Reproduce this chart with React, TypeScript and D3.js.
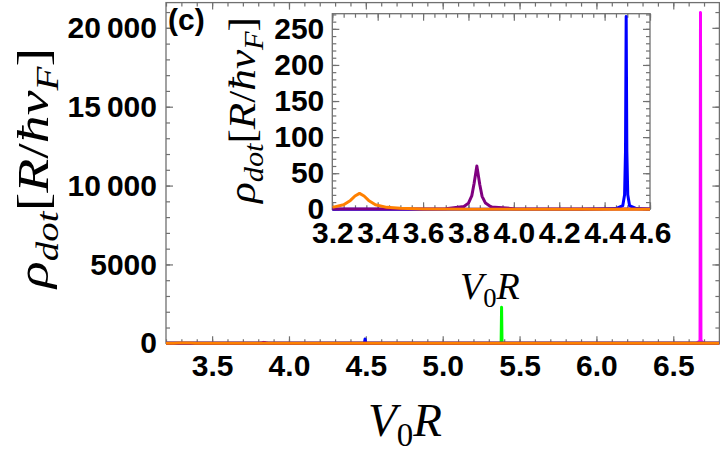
import React, { useRef, useEffect } from 'react';
import * as d3 from 'd3';

// ---- main panel ticks ----
const mainXTicks = [3.5, 4.0, 4.5, 5.0, 5.5, 6.0, 6.5];
const mainXLabels = ["3.5", "4.0", "4.5", "5.0", "5.5", "6.0", "6.5"];
const mainYTicks = [0, 5000, 10000, 15000, 20000];
const mainYLabels = ["0", "5000", "10\u2009000", "15\u2009000", "20\u2009000"];

// ---- inset ticks ----
const insetXTicks = [3.2, 3.4, 3.6, 3.8, 4.0, 4.2, 4.4, 4.6];
const insetXLabels = ["3.2", "3.4", "3.6", "3.8", "4.0", "4.2", "4.4", "4.6"];
const insetYTicks = [0, 50, 100, 150, 200, 250];
const insetYLabels = ["0", "50", "100", "150", "200", "250"];

// ---- series (V0R, rho_dot) ----
const orangeX = [3.2, 3.25, 3.28, 3.3, 3.32, 3.34, 3.36, 3.39, 3.44, 3.5, 3.6, 3.8, 4.2, 6.8];
const orangeY = [2.7, 6.4, 12.3, 18.4, 22, 18.4, 12.3, 6.4, 2.7, 1.3, 0.55, 0.2, 0.05, 0];

const purpleX = [3.2, 3.6, 3.7, 3.78, 3.8, 3.815, 3.825, 3.837, 3.85, 3.86, 3.875, 3.9, 4.0, 4.3, 6.8];
const purpleY = [0.3, 0.4, 0.8, 3.9, 8.6, 19, 36, 60, 34, 18, 8.6, 3.2, 0.9, 0.3, 0];

const blueX = [3.2, 4.3, 4.45, 4.48, 4.488, 4.492, 4.495, 4.498, 4.502, 4.51, 4.54, 4.6, 6.8];
const blueY = [0, 0.2, 1, 5, 20, 80, 267, 80, 20, 5, 1, 0.3, 0];

const greenX = [3.2, 5.36, 5.38, 5.383, 5.386, 5.41, 6.8];
const greenY = [0, 0, 20, 2280, 20, 0, 0];

const magentaX = [3.2, 6.65, 6.674, 6.677, 6.68, 6.7, 6.8];
const magentaY = [0, 0, 150, 20970, 150, 0, 0];

const FRAME = "#707070";
const TICKFONT = "'Liberation Sans', Arial, sans-serif";
const MATHFONT = "'Liberation Serif', 'Times New Roman', serif";

type Part = { t: string; sub?: boolean; it?: boolean };
const rhoLabel: Part[] = [
  { t: "\u03c1", it: true },
  { t: "dot", sub: true, it: true },
  { t: "[" },
  { t: "R", it: true },
  { t: "/" },
  { t: "\u0127", it: true },
  { t: "v", it: true },
  { t: "F", sub: true, it: true },
  { t: "]" },
];
const v0rLabel: Part[] = [
  { t: "V", it: true },
  { t: "0", sub: true },
  { t: "R", it: true },
];

function mathText(sel: any, parts: Part[], size: number) {
  let shifted = false;
  parts.forEach(p => {
    const ts = sel.append("tspan").text(p.t)
      .attr("font-style", p.it ? "italic" : "normal");
    if (p.sub) {
      ts.attr("font-size", size * 0.7);
      if (!shifted) { ts.attr("dy", size * 0.22); shifted = true; }
    } else {
      ts.attr("font-size", size);
      if (shifted) { ts.attr("dy", -size * 0.22); shifted = false; }
    }
  });
}

function drawFrame(g: any, x: any, y: any, xMaj: number[], xLab: string[], xMin: number[],
  yMaj: number[], yLab: string[], yMin: number[], fs: number, padX: number, padY: number) {
  const [x0, x1] = x.range();
  const [y0, y1] = y.range();
  const tidy = (a: any) => { a.select(".domain").remove(); a.selectAll("line").attr("stroke", FRAME).attr("stroke-width", 1.2); };
  const labels = (a: any) => a.selectAll("text").attr("font-family", TICKFONT).attr("font-weight", "bold")
    .attr("font-size", fs).attr("fill", "black");

  // bottom
  g.append("g").attr("transform", `translate(0,${y0})`)
    .call(d3.axisBottom(x).tickValues(xMin).tickSize(-4).tickFormat(() => "")).call(tidy);
  g.append("g").attr("transform", `translate(0,${y0})`)
    .call(d3.axisBottom(x).tickValues(xMaj).tickSize(-7).tickPadding(padX)
      .tickFormat((_d: any, i: number) => xLab[i])).call(tidy).call(labels);
  // top
  g.append("g").attr("transform", `translate(0,${y1})`)
    .call(d3.axisTop(x).tickValues(xMin).tickSize(-4).tickFormat(() => "")).call(tidy);
  g.append("g").attr("transform", `translate(0,${y1})`)
    .call(d3.axisTop(x).tickValues(xMaj).tickSize(-7).tickFormat(() => "")).call(tidy);
  // left
  g.append("g").attr("transform", `translate(${x0},0)`)
    .call(d3.axisLeft(y).tickValues(yMin).tickSize(-4).tickFormat(() => "")).call(tidy);
  g.append("g").attr("transform", `translate(${x0},0)`)
    .call(d3.axisLeft(y).tickValues(yMaj).tickSize(-7).tickPadding(padY)
      .tickFormat((_d: any, i: number) => yLab[i])).call(tidy).call(labels);
  // right
  g.append("g").attr("transform", `translate(${x1},0)`)
    .call(d3.axisRight(y).tickValues(yMin).tickSize(-4).tickFormat(() => "")).call(tidy);
  g.append("g").attr("transform", `translate(${x1},0)`)
    .call(d3.axisRight(y).tickValues(yMaj).tickSize(-7).tickFormat(() => "")).call(tidy);

  g.append("rect").attr("x", x0).attr("y", y1).attr("width", x1 - x0).attr("height", y0 - y1)
    .attr("fill", "none").attr("stroke", FRAME).attr("stroke-width", 1.3);
}

const App: React.FC = () => {
  const ref = useRef<SVGSVGElement | null>(null);

  useEffect(() => {
    if (!ref.current) return;
    const svg = d3.select(ref.current);
    svg.selectAll("*").remove();

    const series = [
      { c: "#ff00ff", xs: magentaX, ys: magentaY },
      { c: "#00ff00", xs: greenX, ys: greenY },
      { c: "#0000ff", xs: blueX, ys: blueY },
      { c: "#800080", xs: purpleX, ys: purpleY },
      { c: "#ff8000", xs: orangeX, ys: orangeY },
    ];

    // ---------- main panel ----------
    const x = d3.scaleLinear().domain([3.2, 6.8]).range([166, 719.4]);
    const y = d3.scaleLinear().domain([0, 21600]).range([343.3, 2.6]);

    const defs = svg.append("defs");
    defs.append("clipPath").attr("id", "clipMain").append("rect")
      .attr("x", 166).attr("y", 2.6).attr("width", 719.4 - 166).attr("height", 343.3 - 2.6 + 3);

    const main = svg.append("g");
    drawFrame(main, x, y, mainXTicks, mainXLabels, d3.range(3.2, 6.81, 0.1),
      mainYTicks, mainYLabels, d3.range(0, 21001, 1000), 30, 11, 9);

    const mainLines = main.append("g").attr("clip-path", "url(#clipMain)");
    series.forEach(s => {
      const pts = s.xs.map((v, i) => [v, s.ys[i]] as [number, number]);
      mainLines.append("path").datum(pts)
        .attr("fill", "none").attr("stroke", s.c).attr("stroke-width", 3)
        .attr("stroke-linejoin", "round")
        .attr("d", d3.line<[number, number]>().x(d => x(d[0])).y(d => y(d[1])));
    });

    // axis labels
    main.append("text").attr("transform", "translate(48,168) rotate(-90)")
      .attr("text-anchor", "middle").attr("font-family", MATHFONT).attr("fill", "black")
      .attr("textLength", 240).attr("lengthAdjust", "spacingAndGlyphs")
      .call(mathText, rhoLabel, 45);
    main.append("text").attr("x", 405).attr("y", 436)
      .attr("text-anchor", "middle").attr("font-family", MATHFONT).attr("fill", "black")
      .call(mathText, v0rLabel, 47);
    main.append("text").attr("x", 460).attr("y", 299)
      .attr("font-family", MATHFONT).attr("fill", "black")
      .call(mathText, v0rLabel, 38);
    main.append("text").attr("x", 168).attr("y", 30)
      .attr("font-family", TICKFONT).attr("font-weight", "bold").attr("font-size", 30)
      .attr("fill", "black").text("(c)");

    // ---------- inset ----------
    const xi = d3.scaleLinear().domain([3.2, 4.6]).range([332.3, 650]);
    const yi = d3.scaleLinear().domain([0, 271]).range([209.3, 13.7]);
    defs.append("clipPath").attr("id", "clipInset").append("rect")
      .attr("x", 332.3).attr("y", 13.7).attr("width", 650 - 332.3).attr("height", 209.3 - 13.7 + 3);

    const inset = svg.append("g");
    inset.append("rect").attr("x", 332.3).attr("y", 13.7).attr("width", 650 - 332.3)
      .attr("height", 209.3 - 13.7).attr("fill", "white");
    drawFrame(inset, xi, yi, insetXTicks, insetXLabels, d3.range(3.2, 4.61, 0.05),
      insetYTicks, insetYLabels, d3.range(0, 271, 10), 30, 12, 8);

    const insetLines = inset.append("g").attr("clip-path", "url(#clipInset)");
    series.slice(2).forEach(s => {
      const pts = s.xs.map((v, i) => [v, s.ys[i]] as [number, number]);
      insetLines.append("path").datum(pts)
        .attr("fill", "none").attr("stroke", s.c).attr("stroke-width", 3)
        .attr("stroke-linejoin", "round")
        .attr("d", d3.line<[number, number]>().x(d => xi(d[0])).y(d => yi(d[1])));
    });

    inset.append("text").attr("transform", "translate(255,110) rotate(-90)")
      .attr("text-anchor", "middle").attr("font-family", MATHFONT).attr("fill", "black")
      .attr("textLength", 186).attr("lengthAdjust", "spacingAndGlyphs")
      .call(mathText, rhoLabel, 38);
  }, []);

  return (
    <div style={{ position: "absolute", left: 0, top: 0, width: 720, height: 455, background: "white" }}>
      <svg ref={ref} width={720} height={455} style={{ display: "block" }} />
    </div>
  );
};

export default App;
